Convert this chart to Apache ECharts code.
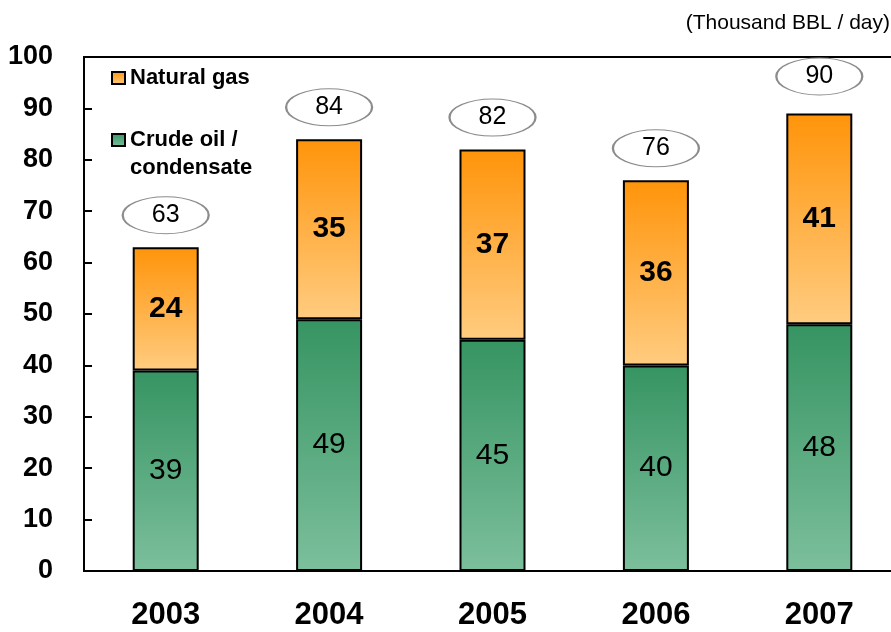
<!DOCTYPE html>
<html>
<head>
<meta charset="utf-8">
<script src="https://cdn.jsdelivr.net/npm/echarts@6/dist/echarts.min.js"></script>
<style>html,body{margin:0;padding:0;background:#fff;overflow:hidden;width:891px;height:632px}#c{width:901px;height:632px}</style>
</head>
<body>
<div id="c"></div>
<script>
const years = ['2003', '2004', '2005', '2006', '2007'];
const crudeOil = [39, 49, 45, 40, 48];
const naturalGas = [24, 35, 37, 36, 41];
const totalLabels = [63, 84, 82, 76, 90];
const yTicks = [0, 10, 20, 30, 40, 50, 60, 70, 80, 90, 100];
const unitText = '(Thousand BBL / day)';
const crudeName = 'Crude oil / condensate';
const gasName = 'Natural gas';

const FONT = '"Liberation Sans", Arial, sans-serif';
const chart = echarts.init(document.getElementById('c'));

const greenGrad = {type: 'linear', x: 0, y: 0, x2: 0, y2: 1,
  colorStops: [{offset: 0, color: '#369462'}, {offset: 1, color: '#7cbf9c'}]};
const orangeGrad = {type: 'linear', x: 0, y: 0, x2: 0, y2: 1,
  colorStops: [{offset: 0, color: '#ff940a'}, {offset: 1, color: '#ffcc80'}]};

chart.setOption({
  animation: false,
  textStyle: {fontFamily: FONT},
  graphic: [{
    type: 'text', right: 11, top: 13,
    style: {text: unitText, fontSize: 21, fontFamily: FONT, fill: '#000'}
  }],
  legend: {
    orient: 'vertical', left: 111, top: 64, itemGap: 6, padding: 0,
    itemWidth: 13, itemHeight: 12, icon: 'rect',
    data: [gasName, crudeName],
    formatter: function (n) { return n === crudeName ? '\nCrude oil /\ncondensate' : n; },
    textStyle: {fontSize: 22, fontWeight: 'bold', color: '#000', lineHeight: 28, fontFamily: FONT}
  },
  grid: {left: 84, top: 57, right: 0, bottom: 61, show: true, borderColor: '#000', borderWidth: 2, containLabel: false},
  xAxis: {
    type: 'category', data: years,
    axisLine: {lineStyle: {color: '#000', width: 2}},
    axisTick: {inside: true, length: 10, lineStyle: {color: '#000', width: 2}},
    axisLabel: {fontSize: 31, fontWeight: 'bold', color: '#000', margin: 29, fontFamily: FONT}
  },
  yAxis: {
    type: 'value', min: 0, max: 100, interval: 10,
    axisLine: {show: true, lineStyle: {color: '#000', width: 2}},
    axisTick: {show: true, inside: true, length: 8, lineStyle: {color: '#000', width: 2}},
    splitLine: {show: false},
    axisLabel: {fontSize: 27, fontWeight: 'bold', color: '#000', margin: 31, fontFamily: FONT,
      formatter: function (v) { return yTicks.indexOf(v) >= 0 ? String(v) : ''; }}
  },
  series: [{
    name: crudeName, type: 'bar', stack: 'total', barWidth: 66, data: crudeOil,
    itemStyle: {color: greenGrad, borderColor: '#000', borderWidth: 2},
    label: {show: true, position: 'inside', fontSize: 30, color: '#000', fontFamily: FONT}
  }, {
    name: gasName, type: 'bar', stack: 'total', barWidth: 66, data: naturalGas,
    itemStyle: {color: orangeGrad, borderColor: '#000', borderWidth: 2},
    label: {show: true, position: 'inside', fontSize: 30, fontWeight: 'bold', color: '#000', fontFamily: FONT}
  }, {
    name: 'total', type: 'scatter', data: totalLabels, z: 5,
    symbol: 'circle', symbolSize: [86, 37], symbolOffset: [0, -32],
    itemStyle: {color: '#fff', borderColor: '#8c8c8c', borderWidth: 1.5, opacity: 1},
    label: {show: true, position: 'inside', fontSize: 25, color: '#000', fontFamily: FONT},
    silent: true
  }]
});
</script>
</body>
</html>
